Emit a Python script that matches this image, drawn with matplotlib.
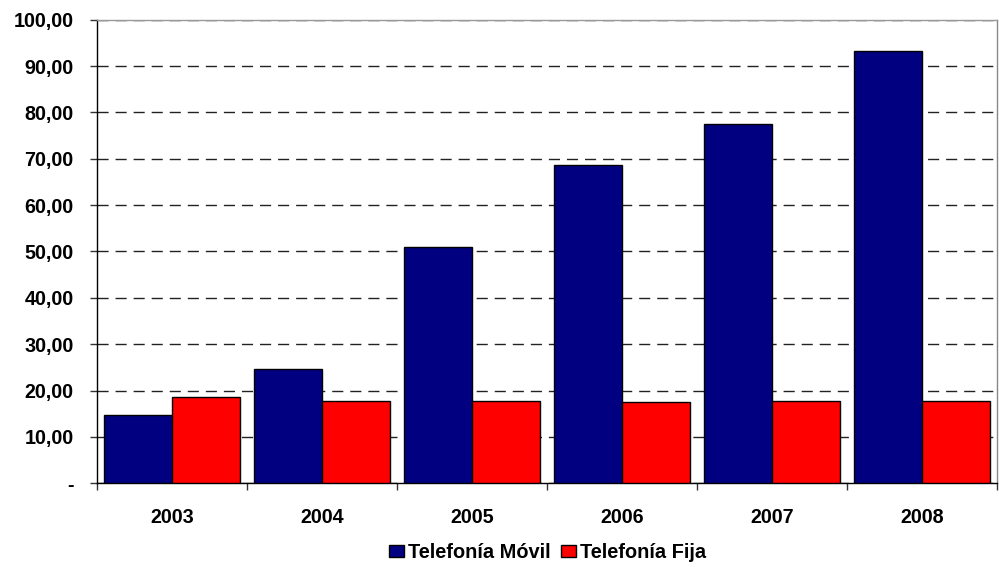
import matplotlib
matplotlib.use("Agg")
import matplotlib.pyplot as plt
import numpy as np

years = ["2003", "2004", "2005", "2006", "2007", "2008"]
movil = [14.7, 24.6, 51.0, 68.7, 77.4, 93.2]
fija = [18.55, 17.8, 17.8, 17.5, 17.8, 17.75]
series_names = ["Telefonía Móvil", "Telefonía Fija"]
yticks = [0, 10, 20, 30, 40, 50, 60, 70, 80, 90, 100]
ytick_labels = ["-", "10,00", "20,00", "30,00", "40,00", "50,00", "60,00",
                "70,00", "80,00", "90,00", "100,00"]

plt.rcParams['font.family'] = ['Liberation Sans', 'DejaVu Sans']
plt.rcParams['font.weight'] = 'bold'

fig = plt.figure(figsize=(9.99, 5.67), dpi=100)
ax = fig.add_axes([97/999, 1 - 483.3/567, 900/999, (483.3 - 19.7)/567])

x = np.arange(len(years))
w = 0.455
ax.bar(x - w/2, movil, w, color="#000080", edgecolor="black", linewidth=1,
       label=series_names[0], zorder=3)
ax.bar(x + w/2, fija, w, color="#FF0000", edgecolor="black", linewidth=1,
       label=series_names[1], zorder=3)

ax.set_xlim(-0.5, len(years) - 0.5)
ax.set_ylim(0, 100)
ax.set_yticks(yticks)
ax.set_yticklabels(ytick_labels, fontsize=14.2, fontweight='bold')
ax.yaxis.grid(True, linestyle=(0, (8, 5)), color="#222222", linewidth=1, zorder=0)

ax.set_xticks(np.arange(-0.5, len(years), 1.0))
ax.set_xticklabels([])
ax.set_xticks(x, minor=True)
ax.set_xticklabels(years, minor=True, fontsize=14.2, fontweight='bold')
ax.tick_params(axis='x', which='minor', length=0, pad=17.5)
ax.tick_params(axis='x', which='major', length=5, width=1, color='#333333')
ax.tick_params(axis='y', length=5, width=1, color='#333333', pad=12)

for s in ['left', 'bottom']:
    ax.spines[s].set_color('black')
    ax.spines[s].set_linewidth(1)
ax.spines['top'].set_color('#999999')
ax.spines['right'].set_color('#888888')
ax.spines['top'].set_linewidth(1)
ax.spines['right'].set_linewidth(1)

fig.legend(loc='center', bbox_to_anchor=(547.5/999, 1 - 552.7/567), ncol=2,
           frameon=False, prop={'size': 14.4, 'weight': 'bold'},
           handlelength=0.75, handleheight=0.55, handletextpad=0.2,
           columnspacing=0.5)

fig.savefig("out.png", dpi=100)
